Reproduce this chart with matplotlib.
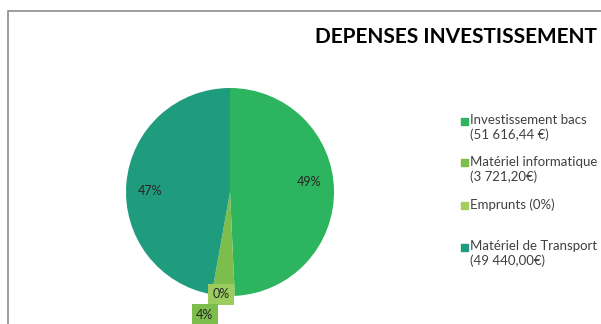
import numpy as np
import matplotlib.pyplot as plt
from matplotlib.patches import Rectangle

plt.rcParams['font.family'] = ['Lato', 'DejaVu Sans']

# Investment spending by category
categories = ['Investissement bacs', 'Matériel informatique', 'Emprunts', 'Matériel de Transport']
amounts = [51616.44, 3721.20, 0.0, 49440.00]
legend_labels = ['Investissement bacs\n(51 616,44 €)',
                 'Matériel informatique\n(3 721,20€)',
                 'Emprunts (0%)',
                 'Matériel de Transport\n(49 440,00€)']
colors = ['#2db45f', '#7cbd4c', '#a3cf5c', '#1f9b7d']
title = 'DEPENSES INVESTISSEMENT'

W, H = 601, 324
fig = plt.figure(figsize=(W / 100, H / 100), dpi=100)

# chart frame (only top and left edges visible)
fig.patches.append(Rectangle((8 / W, -0.1), 1.2, (H - 11) / H + 0.1,
                             transform=fig.transFigure, fill=False,
                             edgecolor='#8c8c8c', linewidth=1.2))

cx, cy, r = 230, 192, 104
ax = fig.add_axes([(cx - r) / W, (H - cy - r) / H, 2 * r / W, 2 * r / H])
wedges, _ = ax.pie(amounts, colors=colors, startangle=90, counterclock=False,
                   radius=1.0, wedgeprops=dict(linewidth=0))
ax.set_xlim(-1, 1)
ax.set_ylim(-1, 1)
ax.set_aspect('auto')
ax.axis('off')

total = sum(amounts)
pcts = [round(100 * a / total) for a in amounts]
txt_color = '#262626'

# large slices: label inside
for i, nudge in [(0, 6), (3, 4)]:
    w = wedges[i]
    mid = np.deg2rad((w.theta1 + w.theta2) / 2 + nudge)
    ax.text(0.77 * np.cos(mid), 0.77 * np.sin(mid), f'{pcts[i]}%',
            ha='center', va='center', fontsize=9, color=txt_color)

# small slices: boxed labels at the rim
for i, (dx, dy), box in [(2, (6.5, 0), '#9ccb5e'), (1, (-5, -14.5), '#7cbd4c')]:
    w = wedges[i]
    ang = np.deg2rad(w.theta1)
    ax.annotate(f'{pcts[i]}%', (np.cos(ang), np.sin(ang)), xytext=(dx, dy),
                textcoords='offset points', ha='center', va='center',
                fontsize=9, color=txt_color, annotation_clip=False,
                bbox=dict(boxstyle='square,pad=0.35', fc=box, ec='none'))

fig.text(597 / W, 1 - 37 / H, title, ha='right', va='center',
         fontsize=15, fontweight='bold', color='black')

# legend
lx, ly, step = 461, 121, 42
for k, (lab, col) in enumerate(zip(legend_labels, colors)):
    y = ly + k * step
    fig.patches.append(Rectangle((lx / W, 1 - (y + 3.5) / H), 7 / W, 7 / H,
                                 transform=fig.transFigure, color=col))
    fig.text((lx + 9) / W, 1 - (y - 7) / H, lab, ha='left', va='top',
             fontsize=9.5, color='#404040', linespacing=1.25)

fig.savefig('out.png', dpi=100)
